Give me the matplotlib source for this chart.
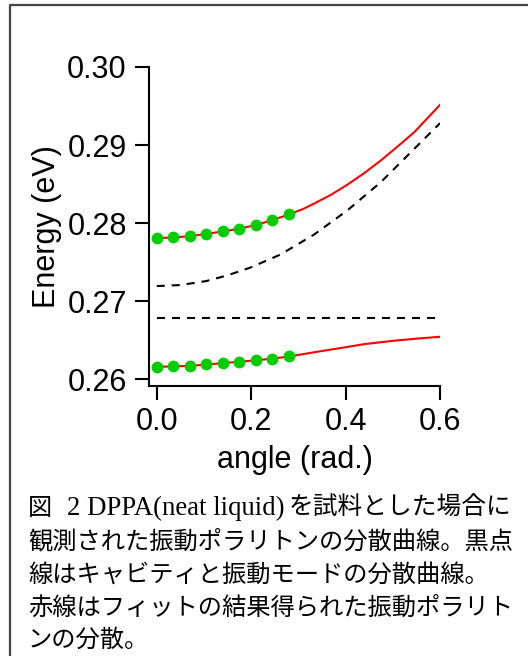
import numpy as np
import matplotlib
matplotlib.use("Agg")
import matplotlib.pyplot as plt
from matplotlib.lines import Line2D

# measured points (angle in rad, energy in eV)
dot_angle = [0.0, 0.0349, 0.0698, 0.1047, 0.1396, 0.1745, 0.2094, 0.2443, 0.2793]
upper_dots = [0.27808, 0.27817, 0.27833, 0.27864, 0.27894, 0.27923, 0.27974, 0.28038, 0.28112]
lower_dots = [0.26158, 0.26162, 0.26171, 0.26187, 0.26209, 0.26222, 0.26238, 0.26260, 0.26290]

# fitted polariton branches (red)
upper_fit_angle = [0.0, 0.0349, 0.0698, 0.1047, 0.1396, 0.1745, 0.2094, 0.2443, 0.2793,
                   0.31, 0.3333, 0.37, 0.404, 0.44, 0.475, 0.51, 0.546, 0.6]
upper_fit = [0.27808, 0.27814, 0.27832, 0.27860, 0.27892, 0.27926, 0.27974, 0.28036, 0.28108,
             0.28180, 0.28249, 0.28365, 0.28492, 0.28642, 0.28804, 0.28980, 0.29167, 0.29515]
lower_fit_angle = [0.0, 0.0349, 0.0698, 0.1047, 0.1396, 0.1745, 0.2094, 0.2443, 0.2793,
                   0.33, 0.40, 0.44, 0.50, 0.55, 0.6]
lower_fit = [0.26158, 0.26161, 0.26170, 0.26185, 0.26204, 0.26222, 0.26240, 0.26262, 0.26288,
             0.26340, 0.26408, 0.26448, 0.26490, 0.26518, 0.26542]

# uncoupled cavity mode and vibrational mode (black dashed)
cavity_angle = [0.0, 0.05, 0.1047, 0.15, 0.198, 0.2617, 0.333, 0.404, 0.475, 0.546, 0.6]
cavity = [0.27192, 0.27205, 0.27256, 0.27330, 0.27428, 0.27595, 0.27851, 0.28163, 0.28526,
          0.28954, 0.29280]
vib_mode = 0.26778

xticks = [0.0, 0.2, 0.4, 0.6]
yticks = [0.26, 0.27, 0.28, 0.29, 0.30]

caption_first = ["図", "2 DPPA(neat liquid)", "を試料とした場合に"]
caption_rest = [
    "観測された振動ポラリトンの分散曲線。黒点",
    "線はキャビティと振動モードの分散曲線。",
    "赤線はフィットの結果得られた振動ポラリト",
    "ンの分散。",
]

plt.rcParams['font.family'] = ['Liberation Sans', 'DejaVu Sans']
plt.rcParams['lines.scale_dashes'] = False

fig = plt.figure(figsize=(5.28, 6.56), dpi=100)
ax = fig.add_axes([149 / 528, 1 - 386 / 656, 291 / 528, 319 / 656])

dash = (0, (5.8, 5.0))
ax.plot(cavity_angle, cavity, color='black', lw=1.5, linestyle=dash)
ax.plot([0.0, 0.6], [vib_mode, vib_mode], color='black', lw=1.5, linestyle=dash)
ax.plot(upper_fit_angle, upper_fit, color='#ff0000', lw=1.5)
ax.plot(lower_fit_angle, lower_fit, color='#ff0000', lw=1.5)
ax.plot(dot_angle, upper_dots, 'o', color='#00cc00', ms=8.5, mec='none')
ax.plot(dot_angle, lower_dots, 'o', color='#00cc00', ms=8.5, mec='none')

ax.set_xlim(-0.0164, 0.6)
ax.set_ylim(0.25911, 0.30)
ax.set_xticks(xticks)
ax.set_xticklabels([f"{v:.1f}" for v in xticks])
ax.set_yticks(yticks)
ax.set_yticklabels([f"{v:.2f}" for v in yticks])
ax.spines['top'].set_visible(False)
ax.spines['right'].set_visible(False)
for s in ('left', 'bottom'):
    ax.spines[s].set_linewidth(1.5)
ax.tick_params(direction='out', length=10, width=1.5, labelsize=22)
ax.tick_params(axis='y', pad=6)
ax.tick_params(axis='x', pad=5)
ax.set_xlabel("angle (rad.)", fontsize=22, labelpad=6)
ax.set_ylabel("Energy (eV)", fontsize=22, labelpad=4)

# frame around the figure (only top and left edges visible in crop)
fig.add_artist(Line2D([10 / 528, 10 / 528, 1.0], [0.0, 1 - 5 / 656, 1 - 5 / 656],
                      transform=fig.transFigure, color='#444444', lw=1.6))

cjk = ['Noto Sans CJK JP', 'DejaVu Sans']
y1 = 1 - 508 / 656
fig.text(28 / 528, y1, caption_first[0], fontsize=17.4, va='center', ha='left', family=cjk)
fig.text(67 / 528, y1, caption_first[1], fontsize=19.3, va='center', ha='left',
         family=['Liberation Serif', 'DejaVu Serif'])
fig.text(289 / 528, y1, caption_first[2], fontsize=17.8, va='center', ha='left', family=cjk)

line_y = [541, 575, 608, 640]
for txt, yy in zip(caption_rest, line_y):
    fig.text(28 / 528, 1 - yy / 656, txt, fontsize=17.5, va='center', ha='left', family=cjk)

fig.savefig("out.png", dpi=100)
